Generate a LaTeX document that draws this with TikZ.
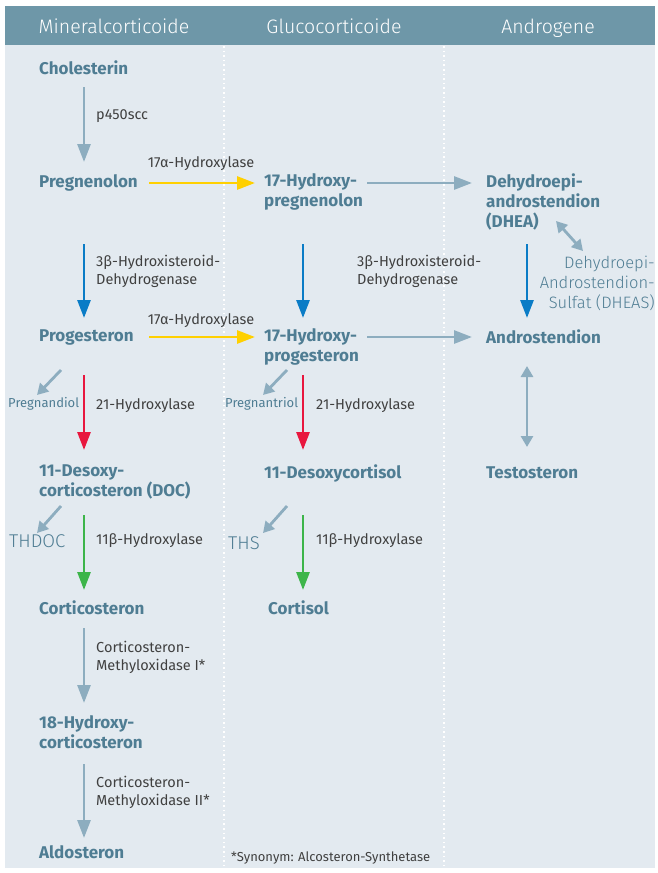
\documentclass[tikz,border=0pt]{standalone}
\usepackage{fontspec}
\setmainfont{Fira Sans}
\newfontfamily\lightfont{Fira Sans Light}
\usetikzlibrary{arrows.meta,calc}
\definecolor{hdr}{HTML}{6E97A8}
\definecolor{bgc}{HTML}{E3EAF0}
\definecolor{nd}{HTML}{4F7D93}
\definecolor{lbl}{HTML}{404040}
\definecolor{ga}{HTML}{8DADBF}
\definecolor{ya}{HTML}{FFD000}
\definecolor{ba}{HTML}{0A7CC6}
\definecolor{ra}{HTML}{E8173E}
\definecolor{gra}{HTML}{3DB54A}
\tikzset{
  hormone/.style={inner sep=0pt, anchor=west, align=left, text=nd, font=\fontsize{17}{20}\selectfont\bfseries},
  enzyme/.style={inner sep=0pt, anchor=west, align=left, text=lbl, font=\fontsize{14.5}{18}\selectfont},
  side/.style={inner sep=0pt, anchor=west, text=nd, font=\fontsize{13}{14}\selectfont},
  bigside/.style={inner sep=0pt, anchor=west, text=nd, font=\lightfont\fontsize{18.5}{20}\selectfont},
  headtxt/.style={inner sep=0pt, anchor=base, text=white, font=\lightfont\fontsize{19.5}{20}\selectfont},
  arr/.style={line width=2.8pt, -{Triangle[width=13pt,length=18pt]}},
  sarr/.style={line width=2.8pt, ga, -{Triangle[width=12pt,length=11pt]}},
  darr/.style={line width=2.8pt, ga, {Triangle[width=12pt,length=11pt]}-{Triangle[width=12pt,length=11pt]}},
  divider/.style={white, line width=1.6pt, dash pattern=on 1.6pt off 3pt}
}
\begin{document}
\begin{tikzpicture}[x=1pt,y=-1pt]
\useasboundingbox (0,0) rectangle (658,873);
\fill[white] (0,0) rectangle (658,873);
\fill[bgc] (5,45) rectangle (655,868);
\fill[hdr] (5,6) rectangle (655,45);
\draw[divider] (224,46) -- (224,868);
\draw[divider] (444,46) -- (444,868);
\node[headtxt] (h1) at (114,33) {Mineralcorticoide};
\node[headtxt] (h2) at (334,33) {Glucocorticoide};
\node[headtxt] (h3) at (548,33) {Androgene};

% hormones
\node[hormone] (chol) at (39,68) {Cholesterin};
\node[hormone] (preg) at (39,183) {Pregnenolon};
\node[hormone] (hpreg) at (264,192) {17-Hydroxy-\\pregnenolon};
\node[hormone] (dhea) at (486,202) {Dehydroepi-\\androstendion\\(DHEA)};
\node[inner sep=0pt, anchor=east, align=right, text=nd, font=\lightfont\fontsize{16.5}{20}\selectfont] (dheas) at (655,283) {Dehydroepi-\\Androstendion-\\Sulfat (DHEAS)};
\node[hormone] (prog) at (39,337) {Progesteron};
\node[hormone] (hprog) at (264,347) {17-Hydroxy-\\progesteron};
\node[hormone] (andro) at (486,337) {Androstendion};
\node[hormone] (testo) at (486,473) {Testosteron};
\node[hormone] (doc) at (39,482) {11-Desoxy-\\corticosteron (DOC)};
\node[hormone] (dcort) at (264,473) {11-Desoxycortisol};
\node[hormone] (cortico) at (39,608) {Corticosteron};
\node[hormone] (cortisol) at (268,608) {Cortisol};
\node[hormone] (hcort) at (39,732) {18-Hydroxy-\\corticosteron};
\node[hormone] (aldo) at (39,852) {Aldosteron};

% side products
\node[side] (pgd) at (8,404) {Pregnandiol};
\node[side] (pgt) at (225,404) {Pregnantriol};
\node[bigside] (thdoc) at (9,541) {THDOC};
\node[bigside] (ths) at (228,543) {THS};

% enzymes
\node[enzyme] (e1) at (96,116) {p450scc};
\node[enzyme, anchor=center] (e2) at (201,164) {17α-Hydroxylase};
\node[enzyme] (e3) at (96,271) {3β-Hydroxisteroid-\\Dehydrogenase};
\node[enzyme] (e4) at (357,271) {3β-Hydroxisteroid-\\Dehydrogenase};
\node[enzyme, anchor=center] (e5) at (201,321) {17α-Hydroxylase};
\node[enzyme] (e6) at (96,406) {21-Hydroxylase};
\node[enzyme] (e7) at (316,406) {21-Hydroxylase};
\node[enzyme] (e8) at (96,541) {11β-Hydroxylase};
\node[enzyme] (e9) at (316,541) {11β-Hydroxylase};
\node[enzyme] (e10) at (96,657) {Corticosteron-\\Methyloxidase I*};
\node[enzyme] (e11) at (96,792) {Corticosteron-\\Methyloxidase II*};
\node[inner sep=0pt, anchor=west, text=lbl, font=\fontsize{13}{14}\selectfont] (foot) at (231,858) {*Synonym: Alcosteron-Synthetase};

% vertical arrows, column A (x = 84)
\draw[arr, ga]  ($(chol.west)+(45,19)$)    -- ($(preg.west)+(45,-21)$);
\draw[arr, ba]  ($(preg.west)+(45,61)$)    -- ($(prog.west)+(45,-19)$);
\draw[arr, ra]  ($(prog.west)+(45,38)$)    -- ($(doc.west)+(45,-32)$);
\draw[arr, gra] ($(doc.west)+(45,33)$)     -- ($(cortico.west)+(45,-18)$);
\draw[arr, ga]  ($(cortico.west)+(45,20)$) -- ($(hcort.west)+(45,-29)$);
\draw[arr, ga]  ($(hcort.west)+(45,32)$)   -- ($(aldo.west)+(45,-14)$);
% column B (x = 303)
\draw[arr, ba]  ($(hpreg.west)+(39,52)$)   -- ($(hprog.west)+(39,-29)$);
\draw[arr, ra]  ($(hprog.west)+(39,28)$)   -- ($(dcort.west)+(39,-23)$);
\draw[arr, gra] ($(dcort.west)+(39,42)$)   -- ($(cortisol.west)+(35,-18)$);
% column C (x = 527)
\draw[arr, ba]  ($(dhea.west)+(41,42)$)    -- ($(andro.west)+(41,-19)$);
\draw[darr]     ($(andro.west)+(41,29)$)   -- ($(testo.west)+(41,-26)$);
\draw[darr]     ($(dhea.west)+(70,19)$)    -- ($(dheas.east)+(-72,-32)$);

% horizontal arrows
\draw[arr, ya] ($(preg.west)+(110,0)$)   -- ($(hpreg.west)+(-9,-9)$);
\draw[arr, ya] ($(prog.west)+(110,0)$)   -- ($(hprog.west)+(-9,-10)$);
\draw[arr, ga] ($(hpreg.west)+(103,-9)$) -- ($(dhea.west)+(-14,-19)$);
\draw[arr, ga] ($(hprog.west)+(103,-10)$) -- ($(andro.west)+(-14,0)$);

% side arrows
\draw[sarr] ($(pgd.west)+(53,-34)$)   -- ($(pgd.west)+(29,-9)$);
\draw[sarr] ($(pgt.west)+(62,-34)$)   -- ($(pgt.west)+(38,-9)$);
\draw[sarr] ($(thdoc.west)+(52,-35)$) -- ($(thdoc.west)+(28,-8)$);
\draw[sarr] ($(ths.west)+(59,-37)$)   -- ($(ths.west)+(35,-10)$);
\end{tikzpicture}
\end{document}
